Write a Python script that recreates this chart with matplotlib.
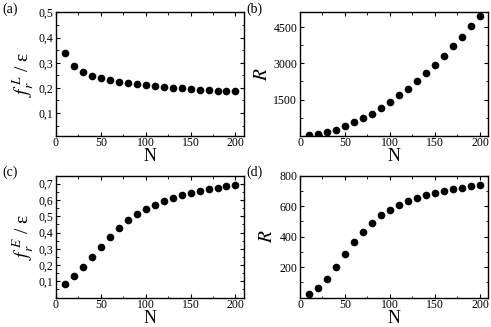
import matplotlib.pyplot as plt
import numpy as np
from matplotlib.ticker import MultipleLocator, FuncFormatter

plt.rcParams['font.family'] = ['Liberation Serif', 'DejaVu Serif']
plt.rcParams['mathtext.fontset'] = 'stix'

# ----- data -----
N = [10, 20, 30, 40, 50, 60, 70, 80, 90, 100,
     110, 120, 130, 140, 150, 160, 170, 180, 190, 200]
fL = [0.338, 0.288, 0.265, 0.249, 0.239, 0.231, 0.225, 0.219, 0.214, 0.210,
      0.206, 0.203, 0.200, 0.198, 0.195, 0.193, 0.191, 0.189, 0.187, 0.186]
R_L = [30, 70, 140, 250, 385, 550, 730, 920, 1140, 1400,
       1670, 1950, 2270, 2600, 2950, 3320, 3700, 4110, 4540, 4980]
fE = [0.085, 0.133, 0.188, 0.250, 0.313, 0.374, 0.430, 0.476, 0.515, 0.546,
      0.572, 0.594, 0.612, 0.628, 0.642, 0.654, 0.665, 0.675, 0.684, 0.692]
R_E = [22, 62, 125, 200, 285, 362, 432, 490, 540, 577,
       607, 632, 653, 670, 686, 699, 711, 720, 730, 740]

comma = FuncFormatter(lambda v, p: ('%g' % v).replace('.', ','))

fig = plt.figure(figsize=(4.91, 3.27), dpi=100)

panels = [
    ([0.114, 0.585, 0.382, 0.377], fL, (0.01, 0.5), 0.1, 0.05, r'$f_r^{\,L}$ / ε', '(a)'),
    ([0.611, 0.585, 0.383, 0.377], R_L, (0, 5110), 1500, 750, r'$R$', '(b)'),
    ([0.114, 0.09, 0.382, 0.373], fE, (0, 0.75), 0.1, 0.05, r'$f_r^{\,E}$ / ε', '(c)'),
    ([0.611, 0.09, 0.383, 0.373], R_E, (0, 800), 200, 100, r'$R$', '(d)'),
]

for rect, y, ylim, major, minor, ylab, tag in panels:
    ax = fig.add_axes(rect)
    ax.plot(N, y, 'o', color='black', markersize=4.5)
    ax.set_xlim(0, 209)
    ax.set_ylim(*ylim)
    ax.xaxis.set_major_locator(MultipleLocator(50))
    ax.xaxis.set_minor_locator(MultipleLocator(25))
    ax.yaxis.set_major_locator(MultipleLocator(major))
    ax.yaxis.set_minor_locator(MultipleLocator(minor))
    ax.yaxis.set_major_formatter(comma)
    ticks = [t for t in np.arange(major, ylim[1] + 1e-9, major)]
    ax.set_yticks(ticks)
    ax.tick_params(which='both', direction='in', top=True, right=True, labelsize=8.5)
    ax.tick_params(axis='x', pad=1)
    ax.tick_params(axis='y', pad=2)
    ax.tick_params(which='major', length=3)
    ax.tick_params(which='minor', length=1.8)
    for s in ax.spines.values():
        s.set_linewidth(1.0)
    ax.set_xlabel('N', fontsize=13, labelpad=-1)
    ax.set_ylabel(ylab, fontsize=14, labelpad=2)
    fig.text(rect[0] - 0.11, rect[1] + rect[3] + 0.03, tag, fontsize=10, va='top', ha='left')

fig.savefig('out.png', dpi=100)
